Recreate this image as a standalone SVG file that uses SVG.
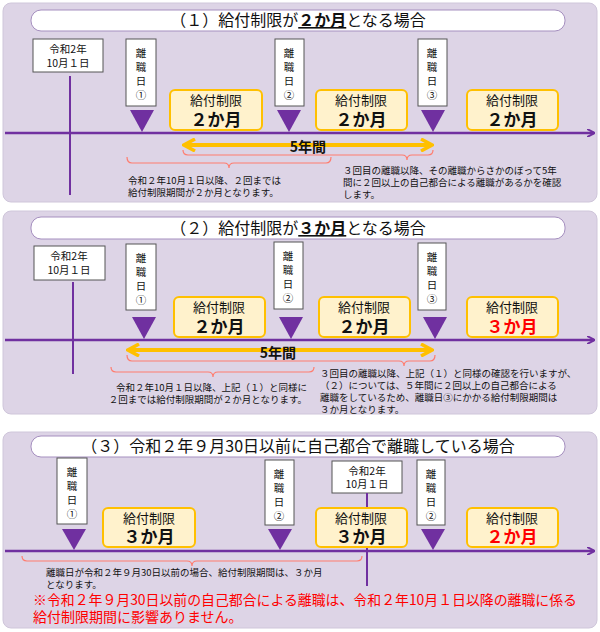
<svg xmlns="http://www.w3.org/2000/svg" width="600" height="632" viewBox="0 0 600 632">
<defs>
<style>
text{font-family:"Noto Sans CJK JP","Noto Sans",sans-serif;fill:#111}
.panel{fill:#ddd4e6;stroke:#cfc6da;stroke-width:1}
.pill{fill:#fff;stroke:#a58fbf;stroke-width:1}
.title{font-size:16px;text-anchor:middle}
.box{fill:#fff;stroke:#555;stroke-width:1}
.rb{font-size:10.5px;text-anchor:middle}
.vt{font-size:10.5px;text-anchor:middle}
.kb{fill:#fff2cc;stroke:#ffc000;stroke-width:2}
.k1{font-size:13px;text-anchor:middle}
.k2{font-size:17px;font-weight:bold;text-anchor:middle}
.tri{fill:#7030a0}
.axis{stroke:#7030a0;stroke-width:2.5;fill:none}
.vl{stroke:#7030a0;stroke-width:2}
.brace{stroke:#ff7c6e;stroke-width:1.2;fill:none}
.yarr{stroke:#ffc000;stroke-width:4;fill:none}
.sm{font-size:9.5px}
.red{fill:#ff0000}
</style>
<marker id="pa" markerWidth="8" markerHeight="8" refX="7" refY="4" orient="auto" markerUnits="userSpaceOnUse"><path d="M0,0 L8,4 L0,8" fill="none" stroke="#7030a0" stroke-width="2"/></marker>
<marker id="ya" markerWidth="14" markerHeight="14" refX="12" refY="7" orient="auto-start-reverse" markerUnits="userSpaceOnUse"><path d="M1,1 L12,7 L1,13" fill="none" stroke="#ffc000" stroke-width="3.5"/></marker>
</defs>

<g id="panel1">
<rect class="panel" x="3" y="3" width="594" height="199" rx="8"/>
<rect class="pill" x="31" y="10" width="534" height="21" rx="10"/>
<text class="title" x="298" y="26">（１）給付制限が<tspan font-weight="bold" text-decoration="underline">２か月</tspan>となる場合</text>
</g>
<g id="p1-reiwa"><rect class="box" x="33" y="39" width="70" height="33"/><text class="rb" x="68" y="53">令和2年</text><text class="rb" x="68" y="67">10月１日</text></g>
<g id="p1-r1"><rect class="box" x="126" y="39" width="30" height="67"/><text class="vt" x="141" y="57">離</text><text class="vt" x="141" y="71">職</text><text class="vt" x="141" y="85">日</text><text class="vt" x="141" y="99">①</text><path class="tri" d="M130,110 L154,110 L142,132Z"/></g>
<g id="p1-r2"><rect class="box" x="275" y="39" width="29" height="67"/><text class="vt" x="289" y="57">離</text><text class="vt" x="289" y="71">職</text><text class="vt" x="289" y="85">日</text><text class="vt" x="289" y="99">②</text><path class="tri" d="M277,110 L301,110 L289,132Z"/></g>
<g id="p1-r3"><rect class="box" x="418" y="39" width="29" height="67"/><text class="vt" x="432" y="57">離</text><text class="vt" x="432" y="71">職</text><text class="vt" x="432" y="85">日</text><text class="vt" x="432" y="99">③</text><path class="tri" d="M421,110 L445,110 L433,132Z"/></g>
<g id="p1-k1"><rect class="kb" x="170" y="90" width="92" height="40" rx="5"/><text class="k1" x="216" y="105">給付制限</text><text class="k2" x="216" y="126">２か月</text></g>
<g id="p1-k2"><rect class="kb" x="316" y="90" width="91" height="40" rx="5"/><text class="k1" x="361" y="105">給付制限</text><text class="k2" x="361" y="126">２か月</text></g>
<g id="p1-k3"><rect class="kb" x="467" y="90" width="91" height="40" rx="5"/><text class="k1" x="512" y="105">給付制限</text><text class="k2" x="512" y="126">２か月</text></g>
<g id="p1-text">
<text class="sm" x="128" y="184">令和２年10月１日以降、２回までは</text>
<text class="sm" x="128" y="196">給付制限期間が２か月となります。</text>
<text class="sm" x="343" y="174">３回目の離職以降、その離職からさかのぼって5年</text>
<text class="sm" x="343" y="186">間に２回以上の自己都合による離職があるかを確認</text>
<text class="sm" x="343" y="198">します。</text>
</g>

<g id="panel2">
<rect class="panel" x="3" y="211" width="594" height="203" rx="8"/>
<rect class="pill" x="31" y="217" width="534" height="22" rx="10"/>
<text class="title" x="298" y="234">（２）給付制限が<tspan font-weight="bold" text-decoration="underline">３か月</tspan>となる場合</text>
</g>
<g id="p2-reiwa"><rect class="box" x="34" y="246" width="71" height="34"/><text class="rb" x="69" y="260">令和2年</text><text class="rb" x="69" y="274">10月１日</text></g>
<g id="p2-r1"><rect class="box" x="126" y="244" width="30" height="66"/><text class="vt" x="141" y="262">離</text><text class="vt" x="141" y="276">職</text><text class="vt" x="141" y="290">日</text><text class="vt" x="141" y="304">①</text><path class="tri" d="M132,317 L156,317 L144,339Z"/></g>
<g id="p2-r2"><rect class="box" x="274" y="242" width="29" height="67"/><text class="vt" x="288" y="260">離</text><text class="vt" x="288" y="274">職</text><text class="vt" x="288" y="288">日</text><text class="vt" x="288" y="302">②</text><path class="tri" d="M279,317 L303,317 L291,339Z"/></g>
<g id="p2-r3"><rect class="box" x="418" y="243" width="28" height="67"/><text class="vt" x="432" y="261">離</text><text class="vt" x="432" y="275">職</text><text class="vt" x="432" y="289">日</text><text class="vt" x="432" y="303">③</text><path class="tri" d="M423,317 L447,317 L435,339Z"/></g>
<g id="p2-k1"><rect class="kb" x="174" y="297" width="91" height="40" rx="5"/><text class="k1" x="219" y="312">給付制限</text><text class="k2" x="219" y="333">２か月</text></g>
<g id="p2-k2"><rect class="kb" x="319" y="297" width="91" height="40" rx="5"/><text class="k1" x="364" y="312">給付制限</text><text class="k2" x="364" y="333">２か月</text></g>
<g id="p2-k3"><rect class="kb" x="467" y="297" width="91" height="40" rx="5"/><text class="k1" x="512" y="312">給付制限</text><text class="k2 red" x="512" y="333">３か月</text></g>
<g id="p2-text">
<text class="sm" x="307" y="391" text-anchor="end">令和２年10月１日以降、上記（１）と同様に</text>
<text class="sm" x="307" y="403" text-anchor="end">２回までは給付制限期間が２か月となります。</text>
<text class="sm" x="320" y="377">３回目の離職以降、上記（１）と同様の確認を行いますが、</text>
<text class="sm" x="320" y="389">（２）については、５年間に２回以上の自己都合による</text>
<text class="sm" x="320" y="401">離職をしているため、離職日③にかかる給付制限期間は</text>
<text class="sm" x="320" y="413">３か月となります。</text>
</g>

<g id="panel3">
<rect class="panel" x="3" y="432" width="594" height="196" rx="8"/>
<rect class="pill" x="31" y="436" width="534" height="21" rx="10"/>
<text class="title" x="298" y="452">（３）令和２年９月30日以前に自己都合で離職している場合</text>
</g>
<g id="p3-r1"><rect class="box" x="57" y="458" width="30" height="66"/><text class="vt" x="72" y="476">離</text><text class="vt" x="72" y="490">職</text><text class="vt" x="72" y="504">日</text><text class="vt" x="72" y="518">①</text><path class="tri" d="M62,529 L86,529 L74,550Z"/></g>
<g id="p3-r2"><rect class="box" x="265" y="460" width="29" height="65"/><text class="vt" x="279" y="478">離</text><text class="vt" x="279" y="492">職</text><text class="vt" x="279" y="506">日</text><text class="vt" x="279" y="520">②</text><path class="tri" d="M268,529 L292,529 L280,550Z"/></g>
<g id="p3-r3"><rect class="box" x="417" y="460" width="28" height="65"/><text class="vt" x="431" y="478">離</text><text class="vt" x="431" y="492">職</text><text class="vt" x="431" y="506">日</text><text class="vt" x="431" y="520">②</text><path class="tri" d="M421,529 L445,529 L433,550Z"/></g>
<g id="p3-reiwa"><rect class="box" x="332" y="461" width="70" height="32"/><text class="rb" x="367" y="475">令和2年</text><text class="rb" x="367" y="488">10月１日</text></g>
<g id="p3-k1"><rect class="kb" x="103" y="508" width="92" height="39" rx="5"/><text class="k1" x="149" y="523">給付制限</text><text class="k2" x="149" y="543">３か月</text></g>
<g id="p3-k3"><rect class="kb" x="467" y="508" width="91" height="39" rx="5"/><text class="k1" x="512" y="523">給付制限</text><text class="k2 red" x="512" y="543">２か月</text></g>
<g id="p3-text">
<text class="sm" x="46" y="576">離職日が令和２年９月30日以前の場合、給付制限期間は、３か月</text>
<text class="sm" x="46" y="588">となります。</text>
<text class="red" x="33" y="605" font-size="14" textLength="544" lengthAdjust="spacingAndGlyphs">※令和２年９月30日以前の自己都合による離職は、令和２年10月１日以降の離職に係る</text>
<text class="red" x="33" y="622" font-size="14">給付制限期間に影響ありません。</text>
</g>

<g id="connectors">
<line class="vl" x1="70" y1="76" x2="70" y2="195"/>
<line class="axis" x1="5" y1="133" x2="594" y2="133" marker-end="url(#pa)"/>
<line class="yarr" x1="184" y1="145" x2="432" y2="145" marker-start="url(#ya)" marker-end="url(#ya)"/>
<path class="brace" d="M183,150 Q183,155 188,155 L402,155 Q407,155 407,160 Q407,155 412,155 L428,155 Q433,155 433,150"/>
<path class="brace" d="M127,157 Q127,163 132,163 L224,163 Q229,163 229,168 Q229,163 234,163 L326,163 Q331,163 331,157"/>

<line class="vl" x1="73" y1="282" x2="73" y2="374"/>
<line class="axis" x1="5" y1="340" x2="594" y2="340" marker-end="url(#pa)"/>
<line class="yarr" x1="128" y1="350" x2="432" y2="350" marker-start="url(#ya)" marker-end="url(#ya)"/>
<path class="brace" d="M127,355 Q127,361 132,361 L399,361 Q404,361 404,366 Q404,361 409,361 L430,361 Q435,361 435,355"/>
<path class="brace" d="M111,367 Q111,372 116,372 L208,372 Q213,372 213,377 Q213,372 218,372 L309,372 Q314,372 314,367"/>

<line class="vl" x1="367" y1="493" x2="367" y2="586"/>
<line class="axis" x1="5" y1="551" x2="594" y2="551" marker-end="url(#pa)"/>
<path class="brace" d="M22,556 Q22,561 27,561 L187,561 Q192,561 192,566 Q192,561 197,561 L357,561 Q362,561 362,556"/>
</g>
<g id="p3-k2"><rect class="kb" x="316" y="508" width="91" height="39" rx="5"/><text class="k1" x="361" y="523">給付制限</text><text class="k2" x="361" y="543">３か月</text></g>
<g id="labels-5years">
<text x="308" y="152" font-size="14" font-weight="bold" text-anchor="middle">5年間</text>
<text x="278" y="358" font-size="14" font-weight="bold" text-anchor="middle">5年間</text>
</g>
</svg>
